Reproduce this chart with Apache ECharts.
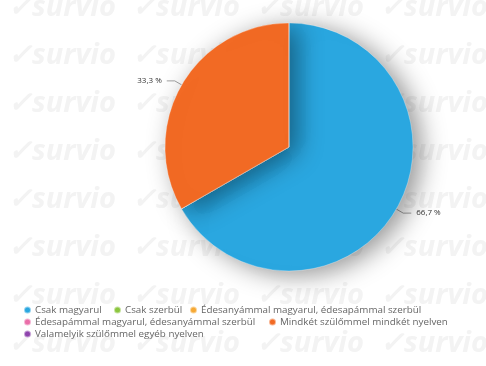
<!DOCTYPE html>
<html>
<head>
<meta charset="utf-8">
<script src="https://cdn.jsdelivr.net/npm/echarts@6/dist/echarts.min.js"></script>
<style>
  html, body { margin: 0; padding: 0; background: #ffffff; }
  #chart { width: 486px; height: 366px; }
</style>
</head>
<body>
<div id="chart"></div>
<script>
// Answer options and their shares (percent)
const categories = [
  'Csak magyarul',
  'Csak szerbül',
  'Édesanyámmal magyarul, édesapámmal szerbül',
  'Édesapámmal magyarul, édesanyámmal szerbül',
  'Mindkét szülőmmel mindkét nyelven',
  'Valamelyik szülőmmel egyéb nyelven'
];
const values = [66.7, 0, 0, 0, 33.3, 0];
const colors = ['#2aa7e0', '#8cc63f', '#f6a935', '#ea6ea9', '#f26a24', '#8e44ad'];

// Legend placement: [left, top] of each entry, in category order
const legendSlots = [[23, 304], [113, 304], [189, 304], [23, 316], [268, 316], [23, 328]];

// Faint brand watermark tiled across the background
const watermark = [];
for (let r = 0; r < 8; r++) {
  for (let c = 0; c < 4; c++) {
    watermark.push({
      type: 'text',
      silent: true,
      z: -10,
      style: {
        x: 8 + c * 124,
        y: 22 + r * 48,
        text: '✓survio',
        fill: '#f3f3f3',
        textVerticalAlign: 'bottom',
        font: 'italic bold 29px "Open Sans", sans-serif'
      }
    });
  }
}

const chart = echarts.init(document.getElementById('chart'), null, { renderer: 'canvas' });

chart.setOption({
  backgroundColor: '#ffffff',
  animation: false,
  color: colors,
  graphic: watermark,
  legend: categories.map((name, i) => ({
    left: legendSlots[i][0],
    top: legendSlots[i][1],
    padding: 0,
    icon: 'circle',
    itemWidth: 7,
    itemHeight: 7,
    selectedMode: false,
    textStyle: {
      fontSize: 9.8,
      lineHeight: 12,
      padding: [0, 0, 0, -1],
      color: '#666',
      fontFamily: '"Open Sans", sans-serif'
    },
    data: [name]
  })),
  series: [{
    type: 'pie',
    center: [289, 147],
    radius: 124,
    startAngle: 90,
    clockwise: true,
    avoidLabelOverlap: false,
    itemStyle: {
      borderColor: 'rgba(255,255,255,0.5)',
      borderWidth: 0.6,
      shadowBlur: 26,
      shadowColor: 'rgba(0,0,0,0.42)',
      shadowOffsetX: 8,
      shadowOffsetY: 4
    },
    label: {
      fontSize: 8,
      color: '#333',
      fontFamily: '"Open Sans", sans-serif',
      formatter: p => p.value.toFixed(1).replace('.', ',') + ' %'
    },
    labelLine: { length: 8, length2: 8, lineStyle: { color: '#888', width: 0.8 } },
    data: categories.map((name, i) => ({
      name,
      value: values[i],
      label: { show: values[i] > 0 },
      labelLine: { show: values[i] > 0 }
    }))
  }]
});
</script>
</body>
</html>
